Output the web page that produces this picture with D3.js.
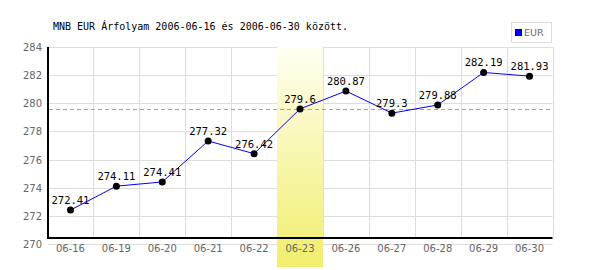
<!DOCTYPE html>
<html>
<head>
<meta charset="utf-8">
<script src="https://cdn.jsdelivr.net/npm/d3@7"></script>
<style>
  body { margin: 0; background: #fff; }
  svg { display: block; }
</style>
</head>
<body>
<div id="chart"></div>
<script>
var dates = ["06-16", "06-19", "06-20", "06-21", "06-22", "06-23", "06-26", "06-27", "06-28", "06-29", "06-30"];
var rates = [272.41, 274.11, 274.41, 277.32, 276.42, 279.6, 280.87, 279.3, 279.88, 282.19, 281.93];
var yTicks = [270, 272, 274, 276, 278, 280, 282, 284];
var highlightDate = "06-23";
var seriesName = "EUR";
var title = "MNB EUR Árfolyam 2006-06-16 és 2006-06-30 között.";

var svg = d3.select("#chart")
    .append("svg")
    .attr("width", 600)
    .attr("height", 270);

var x = d3.scaleBand().domain(dates).range([47.5, 552.5]);
var y = d3.scaleLinear().domain([270, 284]).range([244, 47]);
var plotBottom = 238;

var grad = svg.append("defs").append("linearGradient")
    .attr("id", "hl").attr("x1", 0).attr("y1", 0).attr("x2", 0).attr("y2", 1);
grad.append("stop").attr("offset", "0%").attr("stop-color", "#fffff2");
grad.append("stop").attr("offset", "100%").attr("stop-color", "#f0ee6c");

// horizontal grid
svg.append("g").selectAll("line")
    .data(yTicks).enter().append("line")
    .attr("x1", 48).attr("x2", 552.5)
    .attr("y1", d => Math.round(y(d)) + 0.5)
    .attr("y2", d => Math.round(y(d)) + 0.5)
    .attr("stroke", "#dddddd");

// vertical grid
svg.append("g").selectAll("line")
    .data(dates).enter().append("line")
    .attr("x1", d => Math.round(x(d) + x.bandwidth()) + 0.5)
    .attr("x2", d => Math.round(x(d) + x.bandwidth()) + 0.5)
    .attr("y1", y(284)).attr("y2", plotBottom)
    .attr("stroke", "#dddddd");

// highlighted day
svg.append("rect")
    .attr("x", x(highlightDate))
    .attr("y", y(284))
    .attr("width", x.bandwidth())
    .attr("height", 267 - y(284))
    .attr("fill", "url(#hl)");

// reference line at highlighted value
var refValue = rates[dates.indexOf(highlightDate)];
svg.append("line")
    .attr("x1", 49).attr("x2", 552)
    .attr("y1", Math.round(y(refValue)) + 0.5)
    .attr("y2", Math.round(y(refValue)) + 0.5)
    .attr("stroke", "#9999f0")
    .attr("stroke-dasharray", "4,3");

// axes lines
svg.append("line")
    .attr("x1", 48).attr("x2", 48)
    .attr("y1", y(284)).attr("y2", plotBottom + 1)
    .attr("stroke", "#000").attr("stroke-width", 2);
svg.append("line")
    .attr("x1", 47).attr("x2", 552.5)
    .attr("y1", plotBottom).attr("y2", plotBottom)
    .attr("stroke", "#000").attr("stroke-width", 2);

// y labels
svg.append("g").selectAll("text")
    .data(yTicks).enter().append("text")
    .attr("x", 42)
    .attr("y", d => y(d) + 4)
    .attr("text-anchor", "end")
    .attr("font-family", "DejaVu Sans")
    .attr("font-size", 10)
    .attr("fill", "#666")
    .text(d => d);

// x labels
svg.append("g").selectAll("text")
    .data(dates).enter().append("text")
    .attr("x", d => x(d) + x.bandwidth() / 2)
    .attr("y", 252)
    .attr("text-anchor", "middle")
    .attr("font-family", "DejaVu Sans")
    .attr("font-size", 10)
    .attr("fill", "#666")
    .text(d => d);

// series line
var line = d3.line()
    .x((d, i) => x(dates[i]) + x.bandwidth() / 2)
    .y(d => y(d));
svg.append("path")
    .datum(rates)
    .attr("d", line)
    .attr("fill", "none")
    .attr("stroke", "#0000ff")
    .attr("stroke-width", 1);

svg.append("g").selectAll("circle")
    .data(rates).enter().append("circle")
    .attr("cx", (d, i) => x(dates[i]) + x.bandwidth() / 2)
    .attr("cy", d => y(d))
    .attr("r", 3.5)
    .attr("fill", "#000");

svg.append("g").selectAll("text")
    .data(rates).enter().append("text")
    .attr("x", (d, i) => x(dates[i]) + x.bandwidth() / 2)
    .attr("y", d => y(d) - 6)
    .attr("text-anchor", "middle")
    .attr("font-family", "DejaVu Sans Mono")
    .attr("font-size", 10.5)
    .attr("fill", "#000")
    .text(d => d);

// title
svg.append("text")
    .attr("x", 53).attr("y", 30)
    .attr("font-family", "DejaVu Sans Mono")
    .attr("font-size", 10)
    .attr("fill", "#000")
    .text(title);

// legend
var legend = svg.append("g");
legend.append("rect")
    .attr("x", 511.5).attr("y", 22.5)
    .attr("width", 40).attr("height", 20)
    .attr("fill", "#fff").attr("stroke", "#dddddd");
legend.append("rect")
    .attr("x", 515.5).attr("y", 29.5)
    .attr("width", 6).attr("height", 6)
    .attr("fill", "#0000ff").attr("stroke", "#000033");
legend.append("text")
    .attr("x", 524).attr("y", 36)
    .attr("font-family", "DejaVu Sans")
    .attr("font-size", 9.5)
    .attr("fill", "#666")
    .text(seriesName);
</script>
</body>
</html>
